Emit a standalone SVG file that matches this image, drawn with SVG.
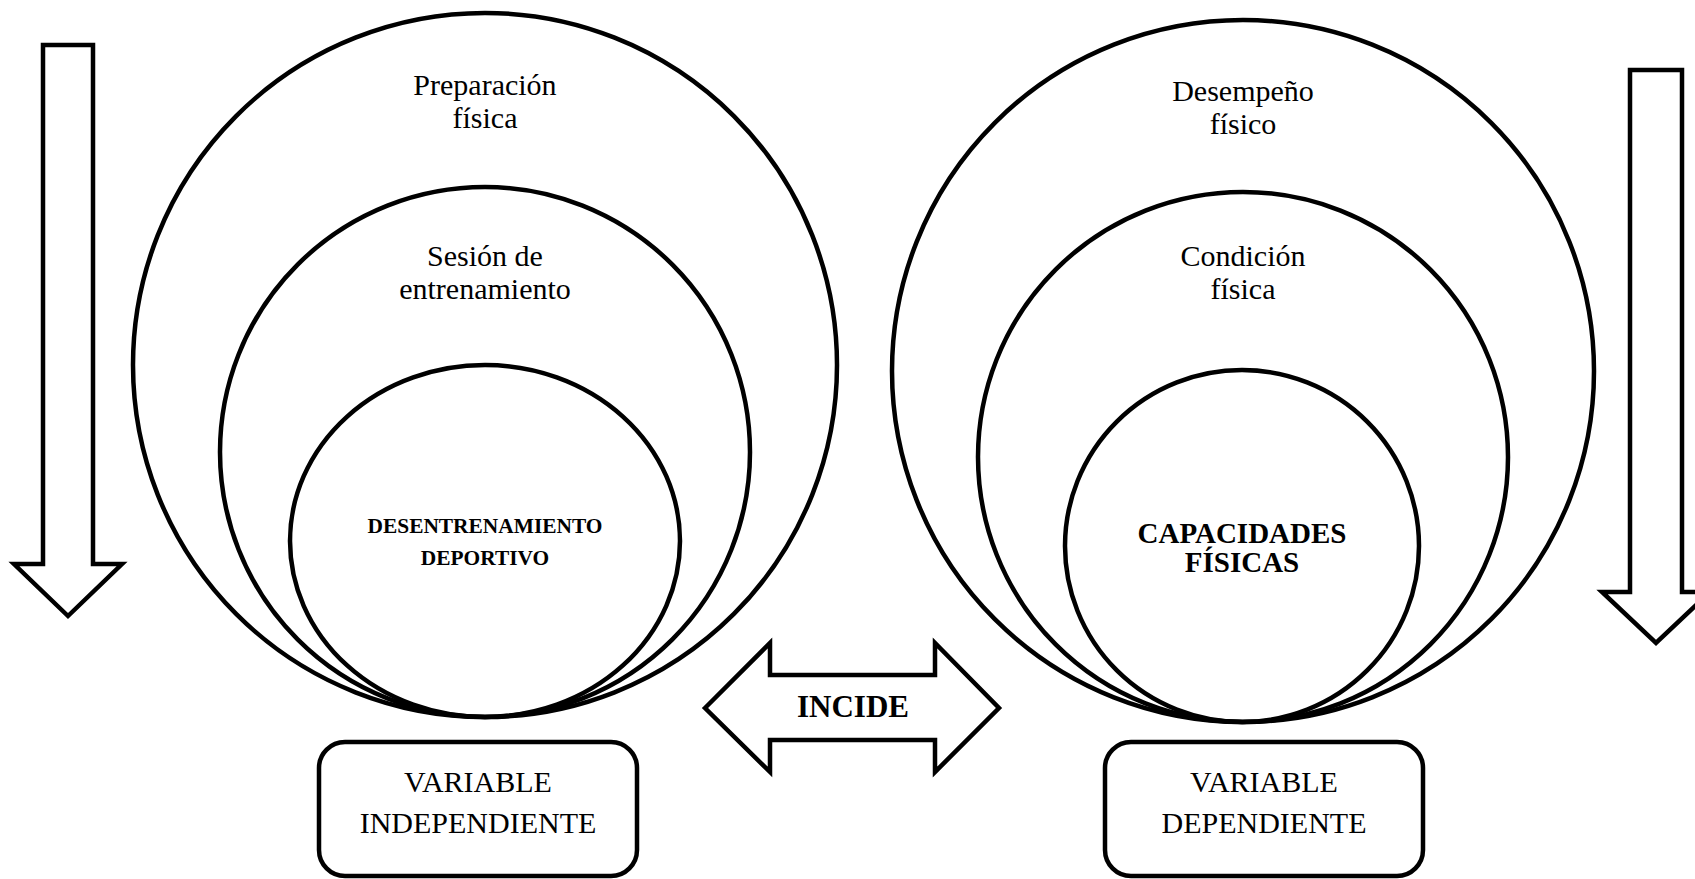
<svg xmlns="http://www.w3.org/2000/svg" width="1695" height="879" viewBox="0 0 1695 879">
<style>
.s{fill:none;stroke:#000;stroke-width:4.5}
.f{fill:#fff;stroke:#000;stroke-width:4.5;stroke-linejoin:miter}
.t{font-family:"Liberation Serif","Times New Roman",serif;font-size:30px;fill:#000;text-anchor:middle}
.b{font-family:"Liberation Serif","Times New Roman",serif;font-weight:bold;fill:#000;text-anchor:middle}
</style>
<rect width="1695" height="879" fill="#fff"/>
<g id="arrow-left">
<polygon class="f" points="43,45 93,45 93,564 122,564 68,616 14,564 43,564"/>
</g>
<g id="arrow-right">
<polygon class="f" points="1630,70 1682,70 1682,592 1710,592 1656,643 1602,592 1630,592"/>
</g>
<g id="left-outer">
<circle class="s" cx="485" cy="365" r="352"/>
<text class="t" x="485" y="95">Preparación</text>
<text class="t" x="485" y="128">física</text>
</g>
<g id="left-middle">
<circle class="s" cx="485" cy="452" r="265"/>
<text class="t" x="485" y="266">Sesión de</text>
<text class="t" x="485" y="299">entrenamiento</text>
</g>
<g id="left-inner">
<ellipse class="s" cx="485" cy="541" rx="195" ry="176"/>
<text class="b" x="485" y="533" font-size="21.4">DESENTRENAMIENTO</text>
<text class="b" x="485" y="565" font-size="21.4">DEPORTIVO</text>
</g>
<g id="right-outer">
<circle class="s" cx="1243" cy="371" r="351"/>
<text class="t" x="1243" y="101">Desempeño</text>
<text class="t" x="1243" y="134">físico</text>
</g>
<g id="right-middle">
<circle class="s" cx="1243" cy="457" r="265"/>
<text class="t" x="1243" y="266">Condición</text>
<text class="t" x="1243" y="299">física</text>
</g>
<g id="right-inner">
<ellipse class="s" cx="1242" cy="546" rx="177" ry="176"/>
<text class="b" x="1242" y="543" font-size="29">CAPACIDADES</text>
<text class="b" x="1242" y="572" font-size="29">FÍSICAS</text>
</g>
<g id="connectors">
<polygon class="f" points="705,708 770,643 770,675 935,675 935,643 999,708 935,772 935,740 770,740 770,772"/>
<text class="b" x="853" y="717" font-size="31">INCIDE</text>
</g>
<g id="box-independiente">
<rect class="s" x="319" y="742" width="318" height="134" rx="26"/>
<text class="t" x="478" y="792" font-size="31">VARIABLE</text>
<text class="t" x="478" y="833" font-size="31">INDEPENDIENTE</text>
</g>
<g id="box-dependiente">
<rect class="s" x="1105" y="742" width="318" height="134" rx="26"/>
<text class="t" x="1264" y="792" font-size="31">VARIABLE</text>
<text class="t" x="1264" y="833" font-size="31">DEPENDIENTE</text>
</g>
</svg>
